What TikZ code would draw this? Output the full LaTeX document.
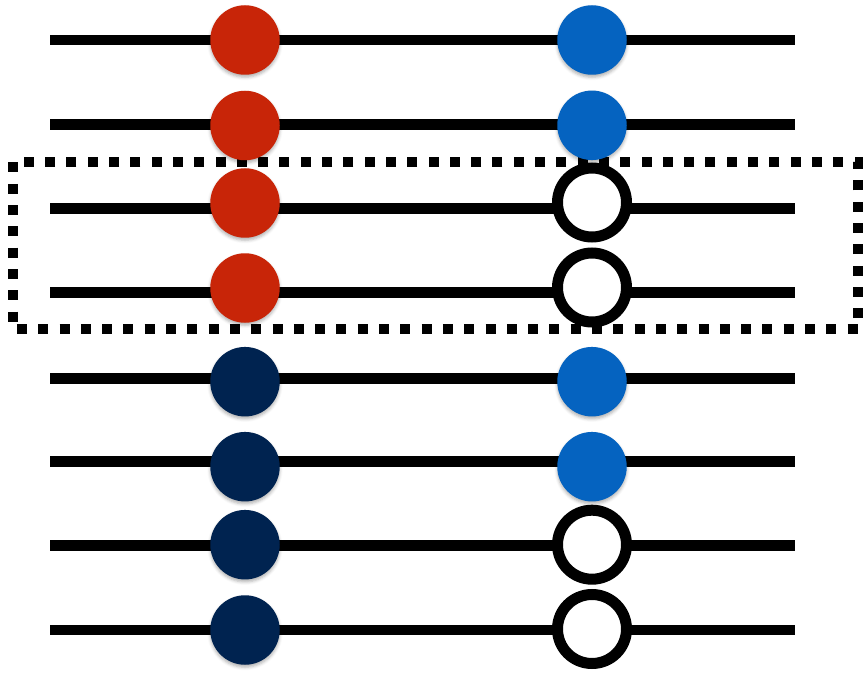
\documentclass[tikz,border=0pt]{standalone}
\usetikzlibrary{shadows.blur}
\definecolor{bead red}{RGB}{200,37,8}
\definecolor{bead blue}{RGB}{5,99,192}
\definecolor{bead navy}{RGB}{0,35,80}
\tikzset{
  wire/.style={line width=10.5pt},
  bead/.style={circle, inner sep=0pt, minimum size=69.5pt, draw=none,
    blur shadow={shadow xshift=0pt, shadow yshift=-2.5pt, shadow blur radius=3pt, shadow opacity=30}},
  redbead/.style={bead, fill=bead red},
  bluebead/.style={bead, fill=bead blue},
  navybead/.style={bead, fill=bead navy},
  ringbead/.style={circle, inner sep=0pt, minimum size=69pt, draw=black, line width=11pt, fill=white,
    blur shadow={shadow xshift=0pt, shadow yshift=-2.5pt, shadow blur radius=3pt, shadow opacity=30}},
  dotbox/.style={line width=10pt, dash pattern=on 10pt off 11.3pt}
}
\begin{document}
\begin{tikzpicture}[x=1pt,y=-1pt]
\useasboundingbox (0,0) rectangle (863,674);
% wire end points
\foreach \i/\y in {1/40,2/124.3,3/208.5,4/292.3,5/378.3,6/461.7,7/545.3,8/630}{
  \coordinate (a\i) at (50,\y);
  \coordinate (b\i) at (795,\y);
  \draw[wire] (a\i) -- (b\i);
}
% dotted box
\coordinate (box1) at (13,162.5);
\coordinate (box2) at (858,329);
\draw[dotbox] (box1) rectangle (box2);
% left beads
\node[redbead]  (l1) at (245,40) {};
\node[redbead]  (l2) at (245,125.5) {};
\node[redbead]  (l3) at (245,203) {};
\node[redbead]  (l4) at (245,288) {};
\node[navybead] (l5) at (245,381.7) {};
\node[navybead] (l6) at (245,466.7) {};
\node[navybead] (l7) at (245,544.7) {};
\node[navybead] (l8) at (245,630) {};
% right beads
\node[bluebead] (r1) at (592,40) {};
\node[bluebead] (r2) at (592,125.3) {};
\node[ringbead] (r3) at (592,202.5) {};
\node[ringbead] (r4) at (592,287.5) {};
\node[bluebead] (r5) at (592,381.7) {};
\node[bluebead] (r6) at (592,466.7) {};
\node[ringbead] (r7) at (592,544.7) {};
\node[ringbead] (r8) at (592,629) {};
\end{tikzpicture}
\end{document}
